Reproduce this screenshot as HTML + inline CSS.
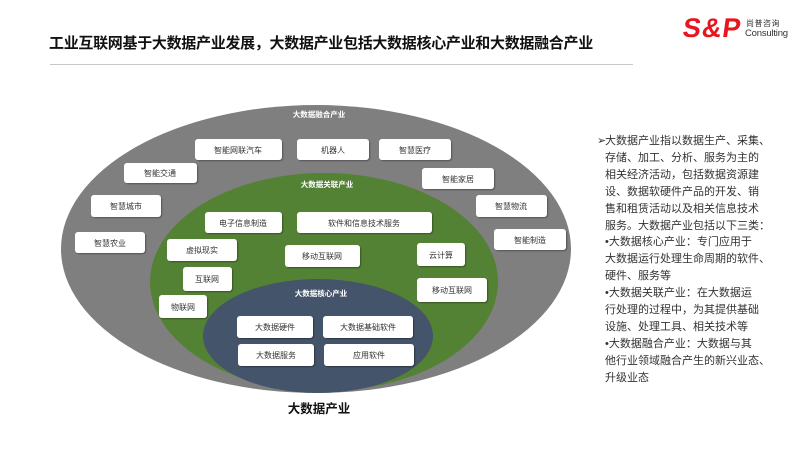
<!DOCTYPE html>
<html><head><meta charset="utf-8"><style>
body{margin:0;width:800px;height:450px;background:#fff;position:relative;overflow:hidden;font-family:"Liberation Sans","Noto Sans CJK SC",sans-serif}
.t{position:absolute;left:49px;top:32px;font-size:15px;font-weight:bold;color:#111;white-space:nowrap;letter-spacing:-0.3px}
.hr{position:absolute;left:50px;top:64px;width:583px;height:1px;background:#c8c8c8}
.r{position:absolute;left:597px;top:133px;font-size:11px;line-height:16.9px;color:#333;white-space:nowrap}
.r span{display:inline-block;width:8px}
</style></head><body>
<div class="t">工业互联网基于大数据产业发展，大数据产业包括大数据核心产业和大数据融合产业</div>
<div class="hr"></div>
<div style="position:absolute;left:683px;top:13px;font-size:27px;font-weight:bold;color:#e8141e;letter-spacing:1px;transform:skewX(-8deg)">S&amp;P</div>
<div style="position:absolute;left:746px;top:18px;font-size:8px;color:#333;letter-spacing:0.5px">尚普咨询</div>
<div style="position:absolute;left:745px;top:28px;font-size:9.5px;color:#333;letter-spacing:-0.2px">Consulting</div>
<svg width="800" height="450" style="position:absolute;left:0;top:0" font-family="Liberation Sans, Noto Sans CJK SC, sans-serif">
<defs><filter id="s" x="-10%" y="-10%" width="130%" height="140%"><feDropShadow dx="1" dy="1" stdDeviation="0.8" flood-opacity="0.35"/></filter></defs>
<ellipse cx="316" cy="249" rx="255" ry="144" fill="#7f7f7f"/>
<ellipse cx="324" cy="282" rx="174" ry="109" fill="#548235"/>
<ellipse cx="318" cy="336" rx="115" ry="57" fill="#44546a"/>
<g fill="#fff" font-size="7.5" font-weight="bold" text-anchor="middle">
<text x="319" y="117">大数据融合产业</text>
<text x="327" y="187">大数据关联产业</text>
<text x="321" y="296">大数据核心产业</text>
</g>
<g fill="#fff" filter="url(#s)">
<rect x="195" y="139" width="87" height="21" rx="3"/>
<rect x="297" y="139" width="72" height="21" rx="3"/>
<rect x="379" y="139" width="72" height="21" rx="3"/>
<rect x="124" y="163" width="73" height="20" rx="3"/>
<rect x="422" y="168" width="72" height="21" rx="3"/>
<rect x="91" y="195" width="70" height="22" rx="3"/>
<rect x="476" y="195" width="71" height="22" rx="3"/>
<rect x="75" y="232" width="70" height="21" rx="3"/>
<rect x="494" y="229" width="72" height="21" rx="3"/>
<rect x="205" y="212" width="77" height="21" rx="3"/>
<rect x="297" y="212" width="135" height="21" rx="3"/>
<rect x="167" y="239" width="70" height="22" rx="3"/>
<rect x="285" y="245" width="75" height="22" rx="3"/>
<rect x="417" y="243" width="48" height="23" rx="3"/>
<rect x="183" y="267" width="49" height="24" rx="3"/>
<rect x="417" y="278" width="70" height="24" rx="3"/>
<rect x="159" y="295" width="48" height="23" rx="3"/>
<rect x="237" y="316" width="76" height="22" rx="3"/>
<rect x="323" y="316" width="90" height="22" rx="3"/>
<rect x="238" y="344" width="76" height="22" rx="3"/>
<rect x="324" y="344" width="90" height="22" rx="3"/>
</g>
<g fill="#333" font-size="8" text-anchor="middle">
<text x="238" y="153">智能网联汽车</text>
<text x="333" y="153">机器人</text>
<text x="415" y="153">智慧医疗</text>
<text x="160" y="176">智能交通</text>
<text x="458" y="182">智能家居</text>
<text x="126" y="209">智慧城市</text>
<text x="511" y="209">智慧物流</text>
<text x="110" y="246">智慧农业</text>
<text x="530" y="243">智能制造</text>
<text x="243" y="226">电子信息制造</text>
<text x="364" y="226">软件和信息技术服务</text>
<text x="202" y="253">虚拟现实</text>
<text x="322" y="259">移动互联网</text>
<text x="441" y="258">云计算</text>
<text x="207" y="282">互联网</text>
<text x="452" y="293">移动互联网</text>
<text x="183" y="310">物联网</text>
<text x="275" y="330">大数据硬件</text>
<text x="368" y="330">大数据基础软件</text>
<text x="276" y="358">大数据服务</text>
<text x="369" y="358">应用软件</text>
</g>
<text x="319" y="413" font-size="12.5" font-weight="bold" fill="#111" text-anchor="middle">大数据产业</text>
</svg>
<div class="r"><span>➢</span>大数据产业指以数据生产、采集、<br><span></span>存储、加工、分析、服务为主的<br><span></span>相关经济活动，包括数据资源建<br><span></span>设、数据软硬件产品的开发、销<br><span></span>售和租赁活动以及相关信息技术<br><span></span>服务。大数据产业包括以下三类：<br><span></span>•大数据核心产业：专门应用于<br><span></span>大数据运行处理生命周期的软件、<br><span></span>硬件、服务等<br><span></span>•大数据关联产业：在大数据运<br><span></span>行处理的过程中，为其提供基础<br><span></span>设施、处理工具、相关技术等<br><span></span>•大数据融合产业：大数据与其<br><span></span>他行业领域融合产生的新兴业态、<br><span></span>升级业态</div>
</body></html>
